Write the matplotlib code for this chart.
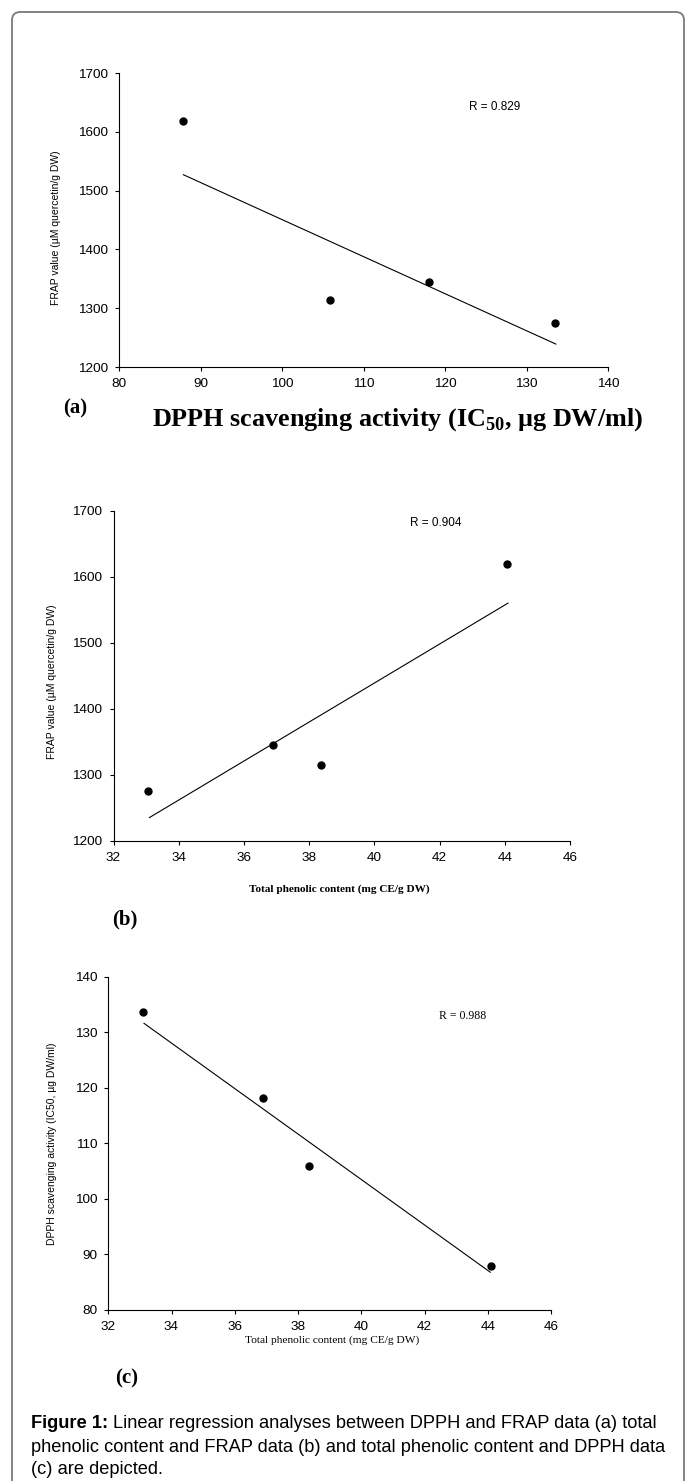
import matplotlib
matplotlib.use("Agg")
import matplotlib.pyplot as plt
from matplotlib.patches import FancyBboxPatch

# values
dpph_ic50 = [87.8, 105.9, 118.0, 133.5]
frap_a = [1618, 1314, 1344, 1275]
fit_a_x = [87.9, 133.6]
fit_a_y = [1527, 1239]

phenolic_b = [33.07, 36.89, 38.37, 44.08]
frap_b = [1276, 1345, 1315, 1619]
fit_b_x = [33.1, 44.1]
fit_b_y = [1235, 1560]

phenolic_c = [33.09, 36.89, 38.36, 44.09]
dpph_c = [133.7, 118.2, 106.0, 88.0]
fit_c_x = [33.13, 44.08]
fit_c_y = [131.6, 86.8]

W, H = 685, 1481
SANS = "Liberation Sans"
SERIF = "Liberation Serif"

plt.rcParams["font.family"] = SANS
plt.rcParams["mathtext.fontset"] = "custom"
plt.rcParams["mathtext.rm"] = "Liberation Serif:bold"
plt.rcParams["mathtext.bf"] = "Liberation Serif:bold"

fig = plt.figure(figsize=(W / 100, H / 100), dpi=100)


def fx(x):
    return x / W


def fy(y):
    return 1 - y / H


def make_axes(left, right, top, bottom):
    ax = fig.add_axes([fx(left), fy(bottom), (right - left) / W, (bottom - top) / H])
    for s in ["top", "right"]:
        ax.spines[s].set_visible(False)
    for s in ["left", "bottom"]:
        ax.spines[s].set_linewidth(0.8)
    ax.tick_params(direction="out", length=3, width=0.8, labelsize=9.7, pad=5)
    return ax


def scatter_fit(ax, x, y, fx_, fy_):
    ax.plot(x, y, "o", color="black", markersize=5, clip_on=False)
    ax.plot(fx_, fy_, color="black", lw=0.8)


# border
border = FancyBboxPatch((fx(12), fy(1500)), (684 - 12) / W, (1500 - 12) / H,
                        boxstyle="round,pad=0,rounding_size=0.012",
                        transform=fig.transFigure, fill=False,
                        edgecolor="#7a7a7a", lw=1.3, mutation_aspect=W / H)
fig.patches.append(border)

# ---- (a)
ax1 = make_axes(119, 608, 73, 367)
scatter_fit(ax1, dpph_ic50, frap_a, fit_a_x, fit_a_y)
ax1.set_xlim(80, 140)
ax1.set_ylim(1200, 1700)
ax1.set_xticks(range(80, 141, 10))
ax1.set_yticks(range(1200, 1701, 100))
ax1.set_ylabel("FRAP value (µM quercetin/g DW)", fontsize=7.5)
ax1.yaxis.set_label_coords((61 - 119) / 489, 0.473)
ax1.text(122.9, 1642, "R = 0.829", fontsize=8.5, va="center")
fig.text(fx(63), fy(408), "(a)", family=SERIF, weight="bold", fontsize=15, va="center")
fig.text(fx(397.5), fy(420), r"DPPH scavenging activity (IC$_{50}$, µg DW/ml)",
         family=SERIF, weight="bold", fontsize=18.8, ha="center", va="center")

# ---- (b)
ax2 = make_axes(113.5, 570, 510.7, 840.7)
scatter_fit(ax2, phenolic_b, frap_b, fit_b_x, fit_b_y)
ax2.set_xlim(32, 46)
ax2.set_ylim(1200, 1700)
ax2.set_xticks(range(32, 47, 2))
ax2.set_yticks(range(1200, 1701, 100))
ax2.set_ylabel("FRAP value (µM quercetin/g DW)", fontsize=7.5)
ax2.yaxis.set_label_coords((57 - 113.5) / 456.5, 0.481)
ax2.text(41.1, 1681, "R = 0.904", fontsize=8.5, va="center")
fig.text(fx(339.5), fy(889), "Total phenolic content (mg CE/g DW)", family=SERIF,
         weight="bold", fontsize=8.1, ha="center", va="center")
fig.text(fx(112), fy(919), "(b)", family=SERIF, weight="bold", fontsize=15, va="center")

# ---- (c)
ax3 = make_axes(108.3, 551, 976.7, 1310)
scatter_fit(ax3, phenolic_c, dpph_c, fit_c_x, fit_c_y)
ax3.set_xlim(32, 46)
ax3.set_ylim(80, 140)
ax3.set_xticks(range(32, 47, 2))
ax3.set_yticks(range(80, 141, 10))
ax3.set_ylabel("DPPH scavenging activity (IC50, µg DW/ml)", fontsize=7.5)
ax3.yaxis.set_label_coords((57 - 108.3) / 442.7, 0.5)
ax3.text(42.46, 132.9, "R = 0.988", family=SERIF, fontsize=8.5, va="center")
fig.text(fx(332.5), fy(1340), "Total phenolic content (mg CE/g DW)", family=SERIF,
         fontsize=8.2, ha="center", va="center")
fig.text(fx(115), fy(1378), "(c)", family=SERIF, weight="bold", fontsize=15, va="center")

# ---- caption
cap_size = 13.15
bold = fig.text(fx(31), fy(1423), "Figure 1:", weight="bold", fontsize=cap_size, va="center")
fig.canvas.draw()
bb = bold.get_window_extent()
fig.text(bb.x1 / W + 5 / W, fy(1423),
         "Linear regression analyses between DPPH and FRAP data (a) total",
         fontsize=cap_size, va="center")
fig.text(fx(31), fy(1447),
         "phenolic content and FRAP data (b) and total phenolic content and DPPH data",
         fontsize=cap_size, va="center")
fig.text(fx(31), fy(1469), "(c) are depicted.", fontsize=cap_size, va="center")

fig.savefig("out.png", dpi=100)
